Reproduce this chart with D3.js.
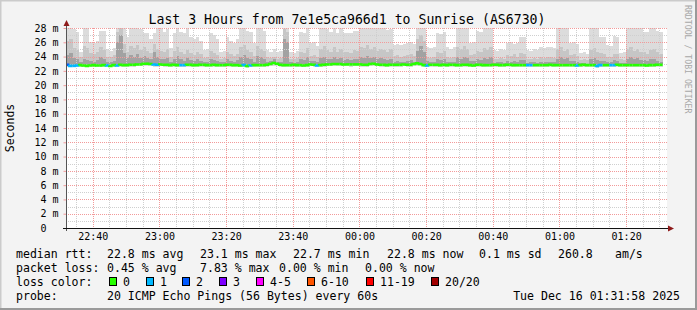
<!DOCTYPE html>
<html>
<head>
<meta charset="utf-8">
<script src="https://cdn.jsdelivr.net/npm/d3@7"></script>
<style>
  html, body { margin: 0; padding: 0; background: #f3f3f3; }
  svg text { font-family: "DejaVu Sans Mono", monospace; white-space: pre; }
</style>
</head>
<body>
<div id="container"></div>
<script>
/* CONSTANTS AND GLOBALS */
const width = 697,
  height = 310,
  plot = { left: 66, right: 666, top: 28, bottom: 228 };

// time window: 3 hours ending at the graph time, one sample per minute
const endTime = new Date(Date.UTC(2025, 11, 16, 1, 31, 58));
const startTime = new Date(endTime - 3 * 3600 * 1000);
const stepSec = 60;

// y axis tick values (ms) and minor grid values
const yTicks = [0, 2, 4, 6, 8, 10, 12, 14, 16, 18, 20, 22, 24, 26, 28];
const yMinor = [1, 3, 5, 7, 9, 11, 13, 15, 17, 19, 21, 23, 25, 27];

// smoke: highest ping per minute (ms)
const maxPing = [
  28, 28, 27.8, 27.5, 24.6, 28, 28, 26, 25.9, 26.2,
  27.6, 27.6, 25, 24.8, 25.2, 28, 28, 28, 26.8, 28,
  28, 28, 27.8, 27.3, 27.3, 26.5, 27.3, 28, 28, 27.5,
  27.8, 25.2, 27.3, 28, 27.5, 27.3, 28, 26.8, 26.5, 26.8,
  26.2, 24.9, 25, 27.3, 27, 26.5, 24.7, 24.8, 26.8, 26.2,
  25.9, 26.4, 28, 28, 27.6, 27.5, 25.9, 28, 28, 27.6,
  24.9, 24.7, 25.0, 24.6, 24.8, 28, 28, 24.7, 24.5, 24.8,
  27.5, 27.3, 28, 25.9, 26, 25.5, 28, 28, 27.8, 27.5,
  28, 27.3, 28, 27.3, 27.3, 27.3, 27.6, 27.6, 28, 28,
  28, 28, 28, 28, 28, 28, 27.7, 27.8, 25.6, 25.8,
  25.6, 25.7, 25.9, 26, 25.8, 28, 28, 28, 25.3, 25.2,
  25.4, 27.3, 27.2, 27.4, 25.3, 25.1, 25.4, 28, 28, 28,
  28, 25.9, 26, 27.6, 27.5, 28, 28, 28, 24.9, 24.8,
  25, 24.9, 25.9, 26, 25.8, 25.9, 26.8, 26.7, 24.9, 24.8,
  25, 24.9, 25.3, 25.2, 25.4, 25.3, 25.2, 28, 28, 28,
  28, 25.9, 26, 25.8, 24.5, 24.6, 24.4, 28, 28, 28,
  26.8, 26.7, 25.6, 25.5, 26.9, 26.8, 24.5, 24.6, 28, 28,
  28, 28, 28, 27.5, 27.4, 28, 28, 27.6, 27.5
];

// smoke: upper edge of the middle band (ms)
const upperBand = [
  26.2, 26.5, 25.2, 24.9, 23.9, 25.5, 25.2, 24.5, 24.3, 24.6,
  25.3, 24.9, 24.0, 23.9, 24.2, 27.5, 28, 25.7, 24.7, 25.5,
  25.2, 25.6, 24.9, 25.3, 24.8, 24.5, 25.7, 25.1, 24.8, 24.6,
  25.0, 24.0, 24.8, 25.4, 24.7, 24.3, 24.9, 24.5, 24.2, 24.6,
  24.3, 23.8, 23.9, 24.8, 24.5, 24.2, 23.7, 23.8, 24.6, 24.3,
  24.1, 24.4, 25.3, 25.6, 24.9, 24.7, 24.1, 25.5, 25.1, 24.8,
  23.9, 23.8, 24.0, 23.7, 23.8, 27.8, 27.5, 23.7, 23.6, 23.8,
  24.7, 24.5, 25.2, 24.1, 24.2, 23.9, 25.1, 25.5, 24.9, 24.7,
  25.3, 24.7, 25.1, 24.6, 24.7, 24.5, 24.9, 24.8, 25.4, 25.2,
  25.6, 25.0, 25.3, 24.8, 25.1, 24.9, 24.7, 25.0, 24.1, 24.2,
  24.0, 24.1, 24.2, 24.3, 24.1, 26.5, 27, 26.2, 23.9, 23.8,
  24.0, 24.7, 24.5, 24.8, 23.9, 23.8, 24.0, 25.3, 25.0, 25.5,
  25.1, 24.2, 24.3, 24.8, 24.6, 25.2, 24.9, 25.3, 23.6, 23.7,
  23.8, 23.6, 24.2, 24.1, 24.3, 24.0, 24.5, 24.4, 23.6, 23.7,
  23.8, 23.6, 23.9, 23.8, 24.0, 23.9, 23.8, 25.0, 25.3, 24.8,
  25.1, 24.2, 24.3, 24.1, 23.5, 23.6, 23.5, 24.9, 25.2, 24.7,
  24.5, 24.3, 24.0, 23.9, 24.4, 24.3, 23.6, 23.5, 25.0, 25.3,
  24.8, 25.1, 24.7, 24.6, 24.4, 24.9, 25.1, 24.6, 24.3
];

// smoke: upper edge of the dark inner band (ms)
const innerBand = [
  24.2, 24.5, 23.8, 23.6, 23.3, 23.7, 23.5, 23.4, 23.3, 23.5,
  23.9, 23.7, 23.3, 23.2, 23.4, 26, 27, 24.5, 23.8, 24.2,
  24, 24.3, 23.8, 24.1, 23.8, 23.6, 24.6, 23.9, 23.7, 23.6,
  23.8, 23.3, 23.7, 24.1, 23.6, 23.4, 23.8, 23.5, 23.4, 23.6,
  23.4, 23.2, 23.3, 23.7, 23.5, 23.4, 23.2, 23.2, 23.6, 23.4,
  23.3, 23.5, 24, 24.2, 23.8, 23.6, 23.3, 24.1, 23.9, 23.7,
  23.3, 23.4, 23.6, 23.3, 23.2, 26.5, 26, 23.2, 23.1, 23.3,
  23.7, 23.5, 23.9, 23.4, 23.4, 23.3, 23.8, 24, 23.7, 23.6,
  23.9, 23.6, 23.8, 23.5, 23.6, 23.5, 23.7, 23.6, 24, 23.8,
  24.1, 23.8, 23.9, 23.6, 23.8, 23.7, 23.5, 23.7, 23.3, 23.4,
  23.3, 23.3, 23.4, 23.5, 23.3, 24.8, 25.5, 24.6, 23.4, 23.2,
  23.3, 23.6, 23.5, 23.7, 23.3, 23.2, 23.3, 23.9, 23.7, 24,
  23.8, 23.4, 23.4, 23.6, 23.5, 23.8, 23.7, 23.9, 23.1, 23.2,
  23.2, 23.1, 23.4, 23.3, 23.4, 23.3, 23.5, 23.5, 23.1, 23.2,
  23.2, 23.1, 23.3, 23.2, 23.3, 23.3, 23.2, 23.7, 23.9, 23.6,
  23.8, 23.4, 23.4, 23.3, 23.1, 23.1, 23.0, 23.6, 23.8, 23.5,
  23.4, 23.4, 23.3, 23.3, 23.5, 23.4, 23.1, 23.1, 23.7, 23.9,
  23.6, 23.8, 23.5, 23.5, 23.4, 23.6, 23.7, 23.4, 23.3
];

// smoke: lowest ping per minute (ms)
const minPing = [
  22.55, 22.5, 22.5, 22.55, 22.6, 22.55, 22.5, 22.55, 22.6, 22.55,
  22.55, 22.6, 22.55, 22.5, 22.6, 22.55, 22.6, 22.6, 22.6, 22.6,
  22.6, 22.65, 22.65, 22.7, 22.7, 22.65, 22.6, 22.6, 22.65, 22.6,
  22.6, 22.6, 22.6, 22.55, 22.55, 22.6, 22.6, 22.6, 22.55, 22.6,
  22.6, 22.6, 22.55, 22.6, 22.6, 22.55, 22.6, 22.6, 22.6, 22.6,
  22.55, 22.6, 22.5, 22.55, 22.45, 22.5, 22.6, 22.6, 22.55, 22.6,
  22.6, 22.65, 22.7, 22.7, 22.6, 22.55, 22.55, 22.6, 22.6, 22.55,
  22.6, 22.5, 22.55, 22.65, 22.6, 22.5, 22.55, 22.6, 22.65, 22.65,
  22.7, 22.7, 22.65, 22.65, 22.65, 22.6, 22.65, 22.65, 22.6, 22.6,
  22.6, 22.65, 22.7, 22.65, 22.6, 22.6, 22.55, 22.6, 22.6, 22.6,
  22.6, 22.65, 22.6, 22.6, 22.65, 22.7, 22.65, 22.55, 22.5, 22.6,
  22.6, 22.6, 22.55, 22.6, 22.55, 22.6, 22.6, 22.55, 22.55, 22.6,
  22.6, 22.55, 22.5, 22.6, 22.6, 22.55, 22.55, 22.6, 22.6, 22.6,
  22.55, 22.6, 22.6, 22.6, 22.55, 22.55, 22.6, 22.6, 22.5, 22.55,
  22.55, 22.6, 22.55, 22.6, 22.6, 22.6, 22.55, 22.6, 22.6, 22.55,
  22.6, 22.55, 22.6, 22.5, 22.55, 22.6, 22.55, 22.6, 22.55, 22.45,
  22.55, 22.6, 22.55, 22.5, 22.5, 22.6, 22.55, 22.6, 22.6, 22.55,
  22.6, 22.6, 22.55, 22.6, 22.5, 22.55, 22.6, 22.6, 22.6
];

// median rtt per minute (ms)
const medianRtt = [
  22.85, 22.7, 22.7, 22.75, 22.8, 22.75, 22.7, 22.75, 22.8, 22.75,
  22.75, 22.8, 22.75, 22.7, 22.8, 22.75, 22.85, 22.8, 22.8, 22.85,
  22.85, 22.9, 22.9, 23.0, 23.0, 22.95, 22.9, 22.85, 22.9, 22.85,
  22.85, 22.8, 22.85, 22.8, 22.8, 22.8, 22.85, 22.85, 22.8, 22.8,
  22.85, 22.85, 22.8, 22.8, 22.85, 22.8, 22.8, 22.8, 22.85, 22.85,
  22.8, 22.8, 22.75, 22.8, 22.7, 22.75, 22.8, 22.8, 22.8, 22.8,
  22.85, 22.95, 23.1, 23.0, 22.85, 22.8, 22.8, 22.8, 22.85, 22.8,
  22.8, 22.75, 22.8, 22.9, 22.85, 22.75, 22.8, 22.85, 22.9, 22.9,
  22.95, 22.95, 22.95, 22.9, 22.9, 22.9, 22.9, 22.9, 22.9, 22.85,
  22.85, 22.95, 23.0, 22.9, 22.85, 22.85, 22.8, 22.85, 22.85, 22.85,
  22.85, 22.9, 22.85, 22.85, 22.95, 23.05, 22.95, 22.8, 22.75, 22.85,
  22.85, 22.85, 22.8, 22.85, 22.8, 22.85, 22.85, 22.8, 22.8, 22.85,
  22.85, 22.8, 22.75, 22.85, 22.85, 22.8, 22.8, 22.8, 22.85, 22.85,
  22.8, 22.8, 22.85, 22.85, 22.8, 22.8, 22.8, 22.8, 22.8, 22.8,
  22.8, 22.8, 22.8, 22.8, 22.8, 22.85, 22.8, 22.8, 22.8, 22.8,
  22.8, 22.8, 22.8, 22.75, 22.8, 22.85, 22.8, 22.8, 22.8, 22.7,
  22.8, 22.8, 22.8, 22.8, 22.8, 22.85, 22.8, 22.8, 22.8, 22.8,
  22.8, 22.8, 22.8, 22.8, 22.75, 22.8, 22.8, 22.85, 22.85
];

// minutes (sample index) that lost pings, and how many were lost
const lossMinutes = [0, 1, 2, 3, 12, 15, 26, 27, 34, 35, 53, 55, 75, 108, 138, 139, 153, 159, 160, 163, 164];
const lossCounts  = [2, 1, 1, 1, 1, 1, 1, 1, 1, 1, 1, 1, 1, 1, 1, 1, 1, 1, 1, 1, 1];

// loss colour legend
const lossLabels = ["0", "1", "2", "3", "4-5", "6-10", "11-19", "20/20"];
const lossColors = ["#26ff00", "#00b8ff", "#0059ff", "#7e00ff", "#ff00ff", "#ff5500", "#ff0000", "#a10000"];

// legend texts
const rttStats = ["22.8 ms avg", "23.1 ms max", "22.7 ms min", "22.8 ms now", "0.1 ms sd", "260.8", "am/s"];
const lossStats = ["0.45 % avg", "7.83 % max", "0.00 % min", "0.00 % now"];
const probeText = "20 ICMP Echo Pings (56 Bytes) every 60s";
const stampText = "Tue Dec 16 01:31:58 2025";
const titleText = "Last 3 Hours from 7e1e5ca966d1 to Sunrise (AS6730)";

/* SCALES */
const x = d3.scaleUtc().domain([startTime, endTime]).range([plot.left, plot.right]);
const y = d3.scaleLinear().domain([0, 28]).range([plot.bottom, plot.top]);

const colIndex = d3.range(medianRtt.length);
const colTime = i => new Date(+startTime + i * stepSec * 1000);
const colX0 = i => x(colTime(i));
const colX1 = i => x(colTime(i + 1));

const lostAt = new Map(lossMinutes.map((m, i) => [m, lossCounts[i]]));
const lossColorIndex = n => n === 0 ? 0 : n <= 3 ? n : n <= 5 ? 4 : n <= 10 ? 5 : n <= 19 ? 6 : 7;

/* SVG */
const svg = d3.select("#container")
  .append("svg")
  .attr("width", width)
  .attr("height", height);

svg.append("rect").attr("width", width).attr("height", height).attr("fill", "#f3f3f3");

// frame (3d look)
svg.append("path").attr("d", `M0.5,${height} V0.5 H${width}`).attr("stroke", "#cbcbcb").attr("fill", "none").attr("stroke-width", 2);
svg.append("path").attr("d", `M${width - 1},0 V${height - 1} H0`).attr("stroke", "#9a9a9a").attr("fill", "none").attr("stroke-width", 2);

// plot background
svg.append("rect")
  .attr("x", plot.left).attr("y", plot.top)
  .attr("width", plot.right - plot.left + 1).attr("height", plot.bottom - plot.top)
  .attr("fill", "#ffffff");

svg.append("clipPath").attr("id", "clip")
  .append("rect")
  .attr("x", plot.left).attr("y", plot.top)
  .attr("width", plot.right - plot.left).attr("height", plot.bottom - plot.top);

const smoke = svg.append("g").attr("clip-path", "url(#clip)").attr("shape-rendering", "crispEdges");

// smoke bands, light outside to dark inside
const bands = [
  { top: maxPing, bottom: minPing, fill: "#dcdcdc" },
  { top: upperBand, bottom: medianRtt, fill: "#c6c6c6" },
  { top: innerBand, bottom: medianRtt, fill: "#a2a2a2" }
];
bands.forEach(b => {
  smoke.append("g")
    .selectAll("rect")
    .data(colIndex)
    .join("rect")
    .attr("x", i => Math.round(colX0(i)))
    .attr("width", i => Math.round(colX1(i)) - Math.round(colX0(i)))
    .attr("y", i => y(b.top[i]))
    .attr("height", i => Math.max(0, y(b.bottom[i]) - y(b.top[i])))
    .attr("fill", b.fill);
});

// GRID
const grid = svg.append("g").attr("shape-rendering", "crispEdges").attr("stroke-dasharray", "1,1");
const minorX = x.ticks(d3.utcMinute.every(5)).filter(t => t.getUTCMinutes() % 20 !== 0);
const majorX = x.ticks(d3.utcMinute.every(20));

grid.selectAll("line.hmin").data(yMinor).join("line")
  .attr("x1", plot.left).attr("x2", plot.right + 2)
  .attr("y1", d => Math.round(y(d)) + 0.5).attr("y2", d => Math.round(y(d)) + 0.5)
  .attr("stroke", "#cfcfcf");
grid.selectAll("line.vmin").data(minorX).join("line")
  .attr("y1", plot.top).attr("y2", plot.bottom)
  .attr("x1", d => Math.round(x(d)) + 0.5).attr("x2", d => Math.round(x(d)) + 0.5)
  .attr("stroke", "#cfcfcf");
grid.selectAll("line.hmaj").data(yTicks.filter(d => d > 0)).join("line")
  .attr("x1", plot.left).attr("x2", plot.right + 2)
  .attr("y1", d => Math.round(y(d)) + 0.5).attr("y2", d => Math.round(y(d)) + 0.5)
  .attr("stroke", "#f29a9a");
grid.selectAll("line.vmaj").data(majorX).join("line")
  .attr("y1", plot.top).attr("y2", plot.bottom + 2)
  .attr("x1", d => Math.round(x(d)) + 0.5).attr("x2", d => Math.round(x(d)) + 0.5)
  .attr("stroke", "#f29a9a");

// MEDIAN LINE coloured by loss
svg.append("g").attr("clip-path", "url(#clip)")
  .selectAll("path")
  .data(colIndex)
  .join("path")
  .attr("d", i => {
    const prev = i > 0 ? y(medianRtt[i - 1]) : y(medianRtt[i]);
    return `M${colX0(i)},${prev} V${y(medianRtt[i])} H${colX1(i)}`;
  })
  .attr("fill", "none")
  .attr("stroke-width", 2.6)
  .attr("stroke", i => lossColors[lossColorIndex(lostAt.get(i) || 0)]);

// AXES
const yAxis = d3.axisLeft(y)
  .tickValues(yTicks)
  .tickSize(3)
  .tickPadding(5)
  .tickFormat(d => d === 0 ? "0\u00a0\u00a0" : `${d} m`);
const gy = svg.append("g").attr("transform", `translate(${plot.left + 0.5},0)`).call(yAxis);
gy.select(".domain").remove();
gy.selectAll(".tick line").attr("stroke", "#f29a9a");
gy.selectAll("text").attr("font-size", 10).attr("fill", "#000").attr("font-family", "DejaVu Sans Mono");

const xAxis = d3.axisBottom(x)
  .ticks(d3.utcMinute.every(20))
  .tickSize(0)
  .tickPadding(5)
  .tickFormat(d3.utcFormat("%H:%M"));
const gx = svg.append("g").attr("transform", `translate(0,${plot.bottom})`).call(xAxis);
gx.select(".domain").remove();
gx.selectAll("text").attr("font-size", 10).attr("fill", "#000").attr("font-family", "DejaVu Sans Mono");

// axis lines + arrows
svg.append("line")
  .attr("x1", plot.left + 0.5).attr("x2", plot.left + 0.5)
  .attr("y1", plot.bottom + 3).attr("y2", plot.top - 4)
  .attr("stroke", "#555").attr("shape-rendering", "crispEdges");
svg.append("line")
  .attr("x1", plot.left - 3).attr("x2", plot.right + 3)
  .attr("y1", plot.bottom + 0.5).attr("y2", plot.bottom + 0.5)
  .attr("stroke", "#111").attr("shape-rendering", "crispEdges");
svg.append("path")
  .attr("d", `M${plot.left - 2.5},${plot.top - 2} L${plot.left + 0.5},${plot.top - 8} L${plot.left + 3.5},${plot.top - 2} Z`)
  .attr("fill", "#8e1a1a");
svg.append("path")
  .attr("d", `M${plot.right + 2},${plot.bottom - 2.5} L${plot.right + 8},${plot.bottom + 0.5} L${plot.right + 2},${plot.bottom + 3.5} Z`)
  .attr("fill", "#8e1a1a");

// TITLE and side labels
svg.append("text")
  .attr("x", 347).attr("y", 24)
  .attr("text-anchor", "middle")
  .attr("font-size", 13.2)
  .text(titleText);

svg.append("text")
  .attr("transform", `translate(14,128) rotate(-90)`)
  .attr("text-anchor", "middle")
  .attr("font-size", 11.5)
  .text("Seconds");

svg.append("text")
  .attr("transform", `translate(685,5) rotate(90)`)
  .attr("font-size", 8.2)
  .attr("fill", "#a8a8a8")
  .text("RRDTOOL / TOBI OETIKER");

// LEGEND
const legend = svg.append("g").attr("font-size", 11.56).attr("fill", "#000");
const rows = [258, 272, 286, 300];

legend.append("text").attr("x", 16).attr("y", rows[0]).text("median rtt:");
legend.selectAll("text.rtt").data(rttStats).join("text")
  .attr("class", "rtt")
  .attr("x", (d, i) => [107, 200, 293, 387, 479, 558, 615][i])
  .attr("y", rows[0])
  .text(d => d);

legend.append("text").attr("x", 16).attr("y", rows[1]).text("packet loss:");
legend.selectAll("text.loss").data(lossStats).join("text")
  .attr("class", "loss")
  .attr("x", (d, i) => [107, 200, 279, 365][i])
  .attr("y", rows[1])
  .text(d => d);

legend.append("text").attr("x", 16).attr("y", rows[2]).text("loss color:");
const swatchX = [109, 146, 182, 219, 256, 307, 366, 431];
const sw = legend.selectAll("g.sw").data(lossLabels).join("g").attr("class", "sw");
sw.append("rect")
  .attr("x", (d, i) => swatchX[i] + 0.5).attr("y", rows[2] - 8.5)
  .attr("width", 7).attr("height", 8)
  .attr("fill", (d, i) => lossColors[i])
  .attr("stroke", "#000");
sw.append("text")
  .attr("x", (d, i) => swatchX[i] + 14)
  .attr("y", rows[2])
  .text(d => d);

legend.append("text").attr("x", 16).attr("y", rows[3]).text("probe:");
legend.append("text").attr("x", 107).attr("y", rows[3]).text(probeText);
legend.append("text").attr("x", 680).attr("y", rows[3]).attr("text-anchor", "end").text(stampText);
</script>
</body>
</html>
